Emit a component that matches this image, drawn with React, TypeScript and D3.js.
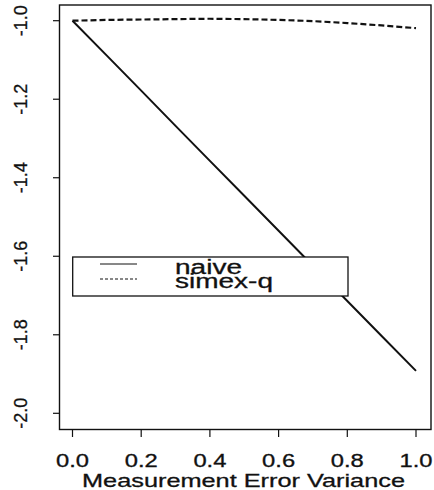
import React from "react";
import * as d3 from "d3";

const xValues = [0, 0.1, 0.2, 0.3, 0.4, 0.5, 0.6, 0.7, 0.8, 0.9, 1.0];
const naiveValues = [-1.0, -1.089, -1.178, -1.268, -1.357, -1.446, -1.535, -1.624, -1.714, -1.803, -1.892];
const simexValues = [-1.0, -0.998, -0.997, -0.996, -0.995, -0.996, -0.998, -1.001, -1.006, -1.012, -1.019];
const xTicks = [0, 0.2, 0.4, 0.6, 0.8, 1.0];
const yTicks = [-1.0, -1.2, -1.4, -1.6, -1.8, -2.0];
const legendLabels = ["naive", "simex-q"];
const xTitle = "Measurement Error Variance";

const W = 434;
const H = 490;
const FONT = "'Liberation Sans', Arial, Helvetica, sans-serif";

export default function App() {
  const x = d3.scaleLinear().domain([0, 1]).range([72.5, 416]);
  const y = d3.scaleLinear().domain([-2, -1]).range([413.3, 20.7]);
  const line = d3
    .line<number>()
    .x((_, i) => x(xValues[i]))
    .y((d) => y(d));

  const box = { l: 59.5, t: 5, r: 431, b: 429.5 };

  return (
    <svg
      width={W}
      height={H}
      style={{ position: "absolute", left: 0, top: 0, background: "#fff" }}
      fontFamily={FONT}
    >
      <rect x={0} y={0} width={W} height={H} fill="#fff" />
      {/* plot box */}
      <rect
        x={box.l}
        y={box.t}
        width={box.r - box.l}
        height={box.b - box.t}
        fill="none"
        stroke="#111"
        strokeWidth={1.4}
      />
      {/* y axis ticks */}
      {yTicks.map((t) => (
        <g key={"y" + t}>
          <line x1={53} x2={box.l} y1={y(t)} y2={y(t)} stroke="#111" strokeWidth={1.2} />
          <g transform={`translate(27, ${y(t)}) rotate(-90)`}>
            <text textAnchor="middle" fontSize={18} fill="#111" stroke="#111" strokeWidth={0.3}>
              {t.toFixed(1)}
            </text>
          </g>
        </g>
      ))}
      {/* x axis ticks */}
      {xTicks.map((t) => (
        <g key={"x" + t}>
          <line x1={x(t)} x2={x(t)} y1={box.b} y2={437} stroke="#111" strokeWidth={1.2} />
          <text
            x={x(t) - 16.5}
            y={466.5}
            fontSize={17.5}
            textLength={33}
            lengthAdjust="spacingAndGlyphs"
            fill="#111"
            stroke="#111"
            strokeWidth={0.3}
          >
            {t.toFixed(1)}
          </text>
        </g>
      ))}
      <text
        x={82}
        y={487}
        fontSize={19}
        textLength={323}
        lengthAdjust="spacingAndGlyphs"
        fill="#111"
        stroke="#111"
        strokeWidth={0.3}
      >
        {xTitle}
      </text>
      {/* series */}
      <path d={line(naiveValues) || ""} fill="none" stroke="#111" strokeWidth={2} />
      <path
        d={line(simexValues) || ""}
        fill="none"
        stroke="#111"
        strokeWidth={2.2}
        strokeDasharray="6,3"
      />
      {/* legend */}
      <rect x={72.7} y={257} width={348 - 72.7} height={296 - 257} fill="#fff" stroke="#111" strokeWidth={1.3} />
      <line x1={100} x2={137} y1={264} y2={264} stroke="#111" strokeWidth={1} />
      <line x1={100} x2={137} y1={279} y2={279} stroke="#111" strokeWidth={1} strokeDasharray="3,2" />
      <text
        x={175}
        y={273.5}
        fontSize={20}
        textLength={67}
        lengthAdjust="spacingAndGlyphs"
        fill="#111"
        stroke="#111"
        strokeWidth={0.3}
      >
        {legendLabels[0]}
      </text>
      <text
        x={175}
        y={288}
        fontSize={20}
        textLength={98}
        lengthAdjust="spacingAndGlyphs"
        fill="#111"
        stroke="#111"
        strokeWidth={0.3}
      >
        {legendLabels[1]}
      </text>
    </svg>
  );
}
